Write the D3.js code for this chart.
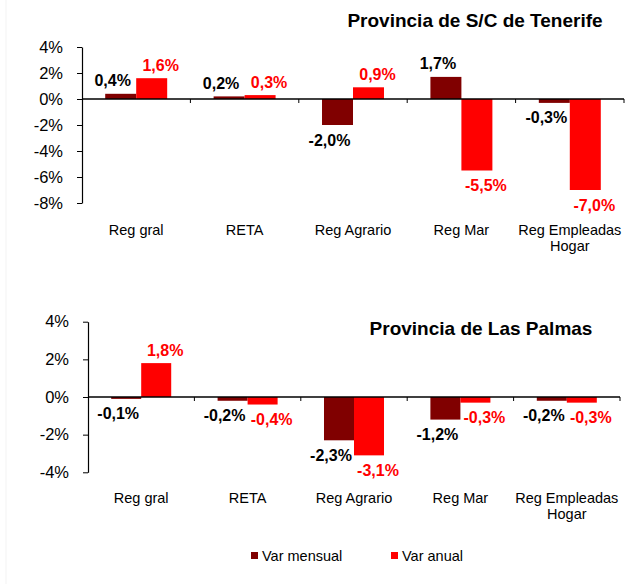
<!DOCTYPE html>
<html><head><meta charset="utf-8">
<script src="https://cdn.jsdelivr.net/npm/d3@7"></script>
<style>
body{margin:0;background:#fff;}
svg{display:block;font-family:"Liberation Sans",Arial,sans-serif;}
</style></head>
<body><svg id="c" width="638" height="584"></svg>
<script>
const categories = ["Reg gral","RETA","Reg Agrario","Reg Mar","Reg Empleadas Hogar"];
const categoryLines = [["Reg gral"],["RETA"],["Reg Agrario"],["Reg Mar"],["Reg Empleadas","Hogar"]];
const series = ["Var mensual","Var anual"];
const colors = ["#800000","#ff0000"];
const labelColors = ["#000000","#ff0000"];
const tenerifeMensual = [0.4, 0.2, -2.0, 1.7, -0.3];
const tenerifeAnual   = [1.6, 0.3, 0.9, -5.5, -7.0];
const palmasMensual   = [-0.1, -0.2, -2.3, -1.2, -0.2];
const palmasAnual     = [1.8, -0.4, -3.1, -0.3, -0.3];
const tenerifeTicks = [4,2,0,-2,-4,-6,-8];
const palmasTicks = [4,2,0,-2,-4];
const titles = ["Provincia de S/C de Tenerife","Provincia de Las Palmas"];

const svg = d3.select("#c");
const fmt = v => d3.format(".1f")(v).replace(".",",").replace("−","-") + "%";

svg.append("line").attr("x1",6).attr("x2",6).attr("y1",0).attr("y2",584).attr("stroke","#f3f3f3");

function panel(cfg){
  const g = svg.append("g");
  const y = d3.scaleLinear().domain(cfg.domain).range(cfg.yRange);
  const x0 = d3.scaleBand().domain(categories).range(cfg.xRange).padding(0);
  const x1 = d3.scaleBand().domain(series).range([0, x0.bandwidth()]).paddingInner(0).paddingOuter(cfg.po);
  const vals = [cfg.m, cfg.a];

  series.forEach((s, si) => {
    g.selectAll(null).data(categories).enter().append("rect")
      .attr("x", c => x0(c) + x1(s))
      .attr("width", x1.bandwidth())
      .attr("y", (c,i) => y(Math.max(0, vals[si][i])))
      .attr("height", (c,i) => Math.abs(y(vals[si][i]) - y(0)))
      .attr("fill", colors[si]);
  });

  g.append("line").attr("x1", cfg.xRange[0]).attr("x2", cfg.xRange[1])
    .attr("y1", y(0)).attr("y2", y(0)).attr("stroke","#000").attr("stroke-width",1.3);
  const bounds = categories.map(c => x0(c)).concat([cfg.xRange[1]]);
  g.selectAll(null).data(bounds.slice(1)).enter().append("line")
    .attr("x1", d => d).attr("x2", d => d)
    .attr("y1", y(0)).attr("y2", y(0) + 4).attr("stroke","#000");

  const ax = g.append("g").attr("transform", `translate(${cfg.xRange[0]},0)`)
    .call(d3.axisLeft(y).tickValues(cfg.ticks).tickFormat(d => d + "%").tickSize(5).tickSizeOuter(0).tickPadding(14));
  ax.select(".domain").attr("stroke","#000").attr("stroke-width",1.2);
  ax.selectAll(".tick line").attr("stroke","#000");
  ax.selectAll(".tick text").attr("font-size", 16.5).attr("fill","#000")
    .attr("font-family",'"Liberation Sans",Arial,sans-serif');

  series.forEach((s, si) => {
    const dx = si === 0 ? -8 : 9;
    g.selectAll(null).data(categories).enter().append("text")
      .attr("x", c => x0(c) + x1(s) + x1.bandwidth()/2 + dx)
      .attr("y", (c,i) => {
        const v = vals[si][i];
        return v >= 0 ? y(v) - 13 + 5.5 : y(v) + 15 + 5.5;
      })
      .attr("text-anchor","middle").attr("font-size",16).attr("font-weight","bold")
      .attr("fill", labelColors[si])
      .text((c,i) => fmt(vals[si][i]));
  });

  categories.forEach((c, i) => {
    categoryLines[i].forEach((ln, li) => {
      g.append("text").attr("x", x0(c) + x0.bandwidth()/2).attr("y", cfg.catY + li*16)
        .attr("text-anchor","middle").attr("font-size",14.5).attr("fill","#000").text(ln);
    });
  });

  g.append("text").attr("x", cfg.titleX).attr("y", cfg.titleY).attr("text-anchor","middle")
    .attr("font-size",19).attr("font-weight","bold").attr("fill","#000").text(cfg.title);
}

panel({domain:[-8,4], yRange:[203,47], xRange:[82,624], po:0.749, m:tenerifeMensual, a:tenerifeAnual,
  ticks:tenerifeTicks, catY:235, titleX:475, titleY:27, title:titles[0]});
panel({domain:[-4,4], yRange:[472.3,321.7], xRange:[88,620], po:0.773, m:palmasMensual, a:palmasAnual,
  ticks:palmasTicks, catY:503, titleX:481, titleY:335, title:titles[1]});

const legX = [251, 391];
series.forEach((s, si) => {
  svg.append("rect").attr("x", legX[si]).attr("y", 552).attr("width",7).attr("height",7).attr("fill", colors[si]);
  svg.append("text").attr("x", legX[si] + 11).attr("y", 561).attr("font-size",14.5).attr("fill","#000").text(s);
});
</script></body></html>
